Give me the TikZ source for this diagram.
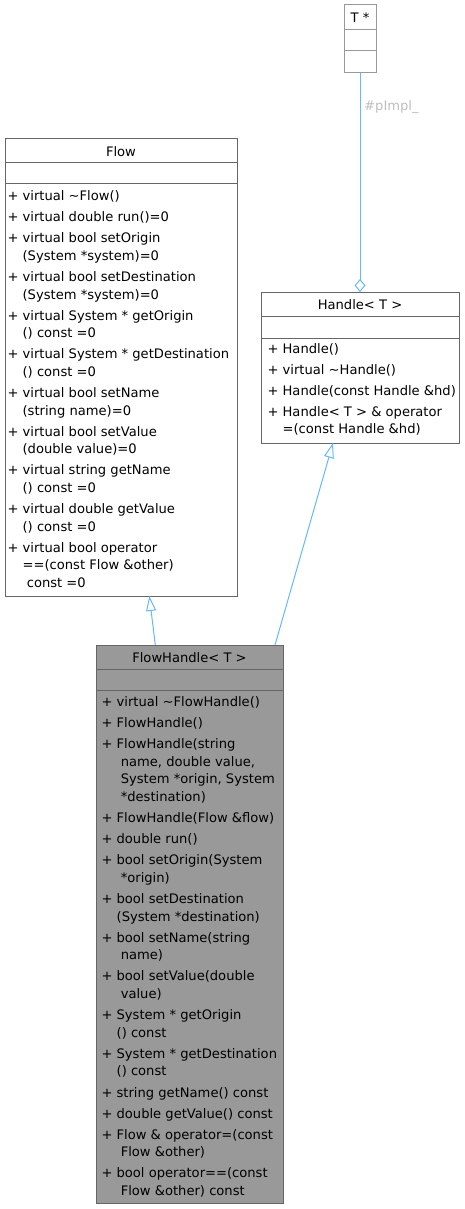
\documentclass[tikz,border=0pt]{standalone}
\usepackage{fontspec}
\setmainfont{DejaVu Sans}
\usetikzlibrary{arrows.meta,calc}
\definecolor{edgeblue}{HTML}{63B8FF}
\definecolor{boxgray}{HTML}{666666}
\definecolor{lightbox}{HTML}{999999}
\definecolor{fillgray}{HTML}{999999}
\definecolor{labelgray}{HTML}{BEBEBE}
\newcommand\cind{\strut\hphantom{+\ }}
\newcommand\sind{\strut\hphantom{+\ }\ }
\begin{document}
\begin{tikzpicture}[x=1pt,y=-1pt,
  box/.style={draw=boxgray, line width=1pt, anchor=north west, inner sep=0pt, outer sep=0pt},
  ttl/.style={inner sep=0pt, font=\fontsize{13.1}{17.6}\selectfont},
  meth/.style={anchor=north west, inner sep=0pt, align=left, font=\fontsize{13.1}{17.6}\selectfont},
  div/.style={draw=boxgray, line width=1pt},
  inh/.style={draw=edgeblue, line width=1pt, -{Triangle[open, length=15pt, width=10pt]}},
  agg/.style={draw=edgeblue, line width=1pt, -{Diamond[open, length=13pt, width=11pt]}},
  lbl/.style={inner sep=0pt, anchor=west, text=labelgray, font=\fontsize{13.1}{17.6}\selectfont}
]
\useasboundingbox (0,0) rectangle (464,1209);

% T * box
\node[box, draw=lightbox, minimum width=32pt, minimum height=68pt] (tp) at (344,5) {};
\node[ttl] (tpt) at (360,17.5) {T *};
\draw[div, draw=lightbox] (tp.west |- 0,29.5) -- (tp.east |- 0,29.5);
\draw[div, draw=lightbox] (tp.west |- 0,51) -- (tp.east |- 0,51);

% Flow box
\node[box, minimum width=232pt, minimum height=457pt] (flow) at (5,139) {};
\node[ttl] (flowt) at (121,152) {Flow};
\draw[div] (flow.west |- 0,163) -- (flow.east |- 0,163);
\draw[div] (flow.west |- 0,184) -- (flow.east |- 0,184);
\node[meth] (flowm) at (7.3,188) {%
\strut+ virtual \textasciitilde Flow()\\[3.5pt]
\strut+ virtual double run()=0\\[3.5pt]
\strut+ virtual bool setOrigin\\
\cind(System *system)=0\\[3.5pt]
\strut+ virtual bool setDestination\\
\cind(System *system)=0\\[3.5pt]
\strut+ virtual System * getOrigin\\
\cind() const =0\\[3.5pt]
\strut+ virtual System * getDestination\\
\cind() const =0\\[3.5pt]
\strut+ virtual bool setName\\
\cind(string name)=0\\[3.5pt]
\strut+ virtual bool setValue\\
\cind(double value)=0\\[3.5pt]
\strut+ virtual string getName\\
\cind() const =0\\[3.5pt]
\strut+ virtual double getValue\\
\cind() const =0\\[3.5pt]
\strut+ virtual bool operator\\
\cind==(const Flow \&other)\\
\sind const =0};

% Handle box
\node[box, minimum width=198pt, minimum height=151pt] (handle) at (261,292) {};
\node[ttl] (handlet) at (360,304.5) {Handle< T >};
\draw[div] (handle.west |- 0,316) -- (handle.east |- 0,316);
\draw[div] (handle.west |- 0,338) -- (handle.east |- 0,338);
\node[meth] (handlem) at (267.3,340.5) {%
\strut+ Handle()\\[3.5pt]
\strut+ virtual \textasciitilde Handle()\\[3.5pt]
\strut+ Handle(const Handle \&hd)\\[3.5pt]
\strut+ Handle< T > \& operator\\
\cind=(const Handle \&hd)};

% FlowHandle box
\node[box, fill=fillgray, minimum width=187pt, minimum height=558pt] (fh) at (96,645) {};
\node[ttl] (fht) at (189.5,657.5) {FlowHandle< T >};
\draw[div] (fh.west |- 0,669) -- (fh.east |- 0,669);
\draw[div] (fh.west |- 0,690) -- (fh.east |- 0,690);
\node[meth] (fhm) at (101.3,694) {%
\strut+ virtual \textasciitilde FlowHandle()\\[3.5pt]
\strut+ FlowHandle()\\[3.5pt]
\strut+ FlowHandle(string\\
\sind name, double value,\\
\sind System *origin, System\\
\sind *destination)\\[3.5pt]
\strut+ FlowHandle(Flow \&flow)\\[3.5pt]
\strut+ double run()\\[3.5pt]
\strut+ bool setOrigin(System\\
\sind *origin)\\[3.5pt]
\strut+ bool setDestination\\
\cind(System *destination)\\[3.5pt]
\strut+ bool setName(string\\
\sind name)\\[3.5pt]
\strut+ bool setValue(double\\
\sind value)\\[3.5pt]
\strut+ System * getOrigin\\
\cind() const\\[3.5pt]
\strut+ System * getDestination\\
\cind() const\\[3.5pt]
\strut+ string getName() const\\[3.5pt]
\strut+ double getValue() const\\[3.5pt]
\strut+ Flow \& operator=(const\\
\sind Flow \&other)\\[3.5pt]
\strut+ bool operator==(const\\
\sind Flow \&other) const};

% connectors
\draw[inh] ($(fh.north west)+(59.3,0)$) -- ($(flow.south west)+(144.3,0)$);
\draw[inh] ($(fh.north west)+(179,0)$) -- ($(handle.south west)+(72,0)$);
\draw[agg] (tp.south) -- (handle.north);
\node[lbl] (pl) at ($(tp.south)+(4,34)$) {\#pImpl\_};
\end{tikzpicture}
\end{document}
